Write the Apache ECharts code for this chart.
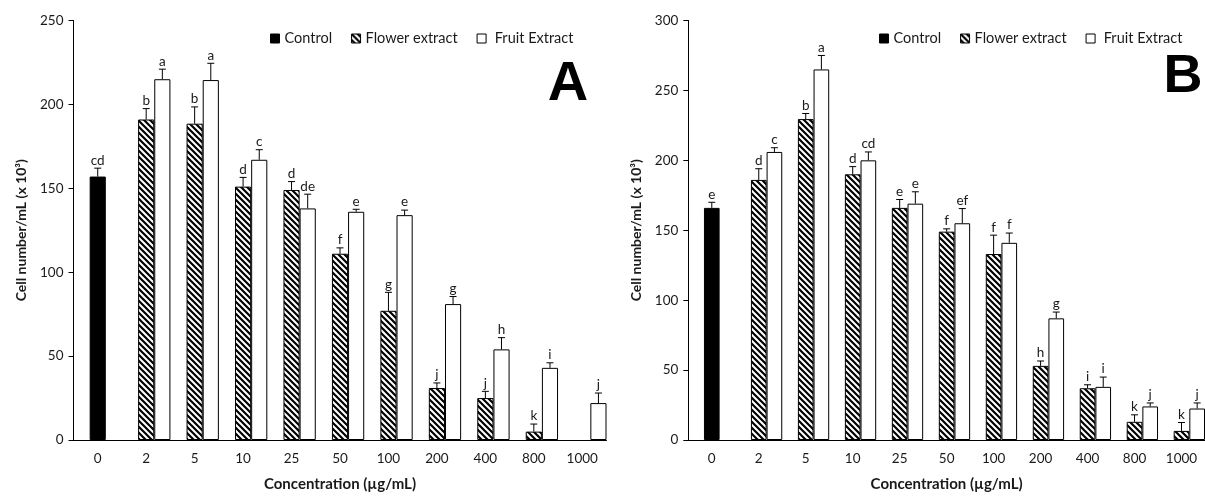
<!DOCTYPE html>
<html><head><meta charset="utf-8">
<script src="https://cdn.jsdelivr.net/npm/echarts@6/dist/echarts.min.js"></script>
<style>html,body{margin:0;padding:0;background:#fff}#c{width:1205px;height:497px}</style>
</head><body><div id="c"></div>
<script>
const categories = ['0','2','5','10','25','50','100','200','400','800','1000'];
const seriesNames = ['Control','Flower extract','Fruit Extract'];
const yTicksA = [0,50,100,150,200,250];
const yTicksB = [0,50,100,150,200,250,300];

// Panel A
const controlA    = [157, null,null,null,null,null,null,null,null,null,null];
const controlErrA = [5,   null,null,null,null,null,null,null,null,null,null];
const controlLetA = ['cd','','','','','','','','','',''];
const flowerA     = [null,191,188.5,151,149,111,77,31,25,5,null];
const flowerErrA  = [null,6.5,10,5.5,5,3.5,11,3,4,4.5,null];
const flowerLetA  = ['','b','b','d','d','f','g','j','j','k',''];
const fruitA      = [null,215,214.5,167,138,136,134,81,54,43,22];
const fruitErrA   = [null,6,10,6,8.5,1.5,3,4.5,7,3,6];
const fruitLetA   = ['','a','a','c','de','e','e','g','h','i','j'];

// Panel B
const controlB    = [166, null,null,null,null,null,null,null,null,null,null];
const controlErrB = [4,   null,null,null,null,null,null,null,null,null,null];
const controlLetB = ['e','','','','','','','','','',''];
const flowerB     = [null,186,229.5,190,166,149,133,53,37,13,6.5];
const flowerErrB  = [null,8,4,5.5,6,2,13.5,3.5,2.5,5,6];
const flowerLetB  = ['','d','b','d','e','f','f','h','i','k','k'];
const fruitB      = [null,206,265,200,169,155,141,87,38,24,22.5];
const fruitErrB   = [null,3,10,6,8.5,10.5,7,4.5,7,2.5,4];
const fruitLetB   = ['','c','a','cd','e','ef','f','g','i','j','j'];

const FONT = 'Lato, "Open Sans", sans-serif';
const INK = '#1a1a1a';

function hatchCanvas(){
  const s = 6;
  const c = document.createElement('canvas');
  c.width = s; c.height = s;
  const g = c.getContext('2d');
  g.fillStyle = '#fff'; g.fillRect(0,0,s,s);
  g.strokeStyle = '#000'; g.lineWidth = 2.2;
  g.beginPath();
  for (let k=-1;k<=1;k++){ g.moveTo(k*s-1,-1); g.lineTo(k*s+s+1,s+1); }
  g.stroke();
  return c;
}
const hatch = {image: hatchCanvas(), repeat: 'repeat'};

const chart = echarts.init(document.getElementById('c'), null, {renderer:'canvas'});

function errSeries(xIdx, yIdx, vals, errs, lets, slot){
  const data = [];
  vals.forEach((v,i)=>{ if (v!=null) data.push([i, v, errs[i], i]); });
  return {
    type:'custom', xAxisIndex:xIdx, yAxisIndex:yIdx, z:5, silent:true, clip:false,
    data: data,
    renderItem: function(params, api){
      const i = api.value(0), v = api.value(1), e = api.value(2), di = api.value(3);
      const b = api.coord([i, v]); const t = api.coord([i, v+e]);
      const bw = api.size([1,0])[0];
      const x = b[0] + slot*bw/3;
      return {type:'group', children:[
        {type:'line', shape:{x1:x,y1:b[1],x2:x,y2:t[1]}, style:{stroke:'#000',lineWidth:1}},
        {type:'line', shape:{x1:x-3.5,y1:t[1],x2:x+3.5,y2:t[1]}, style:{stroke:'#000',lineWidth:1}},
        {type:'text', x:x, y:t[1]-1, style:{text:lets[di], fill:INK, font:'13.5px '+FONT, align:'center', verticalAlign:'bottom'}}
      ]};
    }
  };
}

function yAxis(gi, max, ticks){
  return {type:'value', gridIndex:gi, min:ticks[0], max:max, interval:50,
    axisLine:{show:true, lineStyle:{color:'#000', width:1}},
    axisTick:{show:true, length:5, lineStyle:{color:'#000'}},
    splitLine:{show:false},
    axisLabel:{color:INK, fontSize:13.5, fontFamily:FONT, margin:10},
    name:'Cell number/mL (x 10³)', nameLocation:'middle', nameGap:45,
    nameTextStyle:{color:INK, fontSize:14, fontWeight:'bold', fontFamily:FONT}
  };
}
function xAxis(gi){
  return {type:'category', gridIndex:gi, data:categories,
    axisLine:{lineStyle:{color:'#000', width:1}}, axisTick:{show:false},
    axisLabel:{color:INK, fontSize:13.5, fontFamily:FONT, margin:12},
    name:'Concentration (µg/mL)', nameLocation:'middle', nameGap:37,
    nameTextStyle:{color:INK, fontSize:15, fontWeight:'bold', fontFamily:FONT}
  };
}
function xHidden(gi){ return {type:'category', gridIndex:gi, data:categories, show:false}; }

function panel(xMain, xCtl, yIdx, ctl, ctlErr, ctlLet, fl, flErr, flLet, fr, frErr, frLet){
  const bs = {borderColor:'#000', borderWidth:1};
  return [
    {type:'bar', name:'_pad', xAxisIndex:xMain, yAxisIndex:yIdx, data:categories.map(()=>null),
      barGap:'0%', barCategoryGap:'0%', silent:true},
    {type:'bar', name:seriesNames[1], xAxisIndex:xMain, yAxisIndex:yIdx, data:fl,
      itemStyle:Object.assign({color:hatch}, bs), barGap:'0%', barCategoryGap:'0%'},
    {type:'bar', name:seriesNames[2], xAxisIndex:xMain, yAxisIndex:yIdx, data:fr,
      itemStyle:Object.assign({color:'#fff'}, bs), barGap:'0%', barCategoryGap:'0%'},
    {type:'bar', name:seriesNames[0], xAxisIndex:xCtl, yAxisIndex:yIdx, data:ctl,
      itemStyle:Object.assign({color:'#000'}, bs), barWidth:'33.3%'},
    errSeries(xCtl, yIdx, ctl, ctlErr, ctlLet, 0),
    errSeries(xMain, yIdx, fl, flErr, flLet, 0),
    errSeries(xMain, yIdx, fr, frErr, frLet, 1)
  ];
}

function legend(left){
  return {left:left, top:26, itemWidth:9, itemHeight:9, itemGap:19, icon:'rect',
    data:seriesNames, selectedMode:false,
    formatter: n => n === 'Fruit Extract' ? ' ' + n : n,
    textStyle:{color:INK, fontSize:14.5, fontFamily:FONT},
    itemStyle:{borderColor:'#000', borderWidth:1}
  };
}

chart.setOption({
  animation:false,
  backgroundColor:'#fff',
  grid:[
    {left:73.5, top:20.5, width:533, height:426.5},
    {left:688.3, top:20.5, width:517, height:425.5}
  ],
  xAxis:[xAxis(0), xHidden(0), xAxis(1), xHidden(1)],
  yAxis:[yAxis(0, 250, yTicksA), yAxis(1, 300, yTicksB)],
  legend:[legend(265), legend(874)],
  graphic:[
    {type:'text', x:568, y:85, style:{text:'A', font:'bold 56px "Liberation Sans", Arial, sans-serif', fill:'#000', align:'center', verticalAlign:'middle'}},
    {type:'text', x:1183, y:77, style:{text:'B', font:'bold 54px "Liberation Sans", Arial, sans-serif', fill:'#000', align:'center', verticalAlign:'middle'}}
  ],
  series: [].concat(
    panel(0, 1, 0, controlA, controlErrA, controlLetA, flowerA, flowerErrA, flowerLetA, fruitA, fruitErrA, fruitLetA),
    panel(2, 3, 1, controlB, controlErrB, controlLetB, flowerB, flowerErrB, flowerLetB, fruitB, fruitErrB, fruitLetB)
  )
});
</script>
</body></html>
